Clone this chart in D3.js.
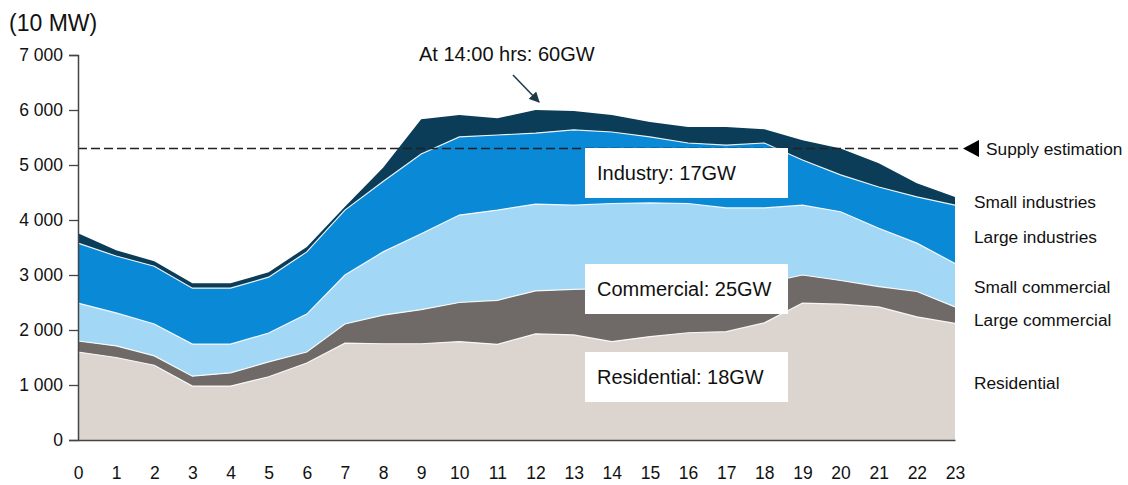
<!DOCTYPE html>
<html>
<head>
<meta charset="utf-8">
<script src="https://cdn.jsdelivr.net/npm/d3@7"></script>
<style>
  html, body { margin: 0; padding: 0; background: #fff; }
  svg { display: block; font-family: "Liberation Sans", Arial, sans-serif; }
</style>
</head>
<body>
<svg id="chart" width="1128" height="485"></svg>
<script>
// Hourly demand by sector, in units of 10 MW
const hours = d3.range(0, 24);
const residential      = [1600,1500,1360, 980, 980,1150,1400,1760,1750,1750,1790,1740,1930,1910,1790,1880,1950,1970,2130,2490,2470,2420,2240,2120];
const largeCommercial  = [ 200, 210, 170, 180, 240, 270, 200, 350, 520, 620, 710, 800, 780, 830, 960, 880, 830, 830, 720, 510, 430, 370, 460, 300];
const smallCommercial  = [ 690, 600, 580, 585, 525, 525, 690, 890,1150,1380,1590,1640,1580,1530,1550,1550,1520,1420,1370,1270,1250,1060, 880, 790];
const largeIndustries  = [1090,1035,1050,1015,1015,1015,1130,1180,1280,1450,1420,1365,1290,1370,1300,1200,1100,1140,1180, 820, 670, 750, 840,1060];
const smallIndustries  = [ 180, 105,  90,  90,  90,  90,  90,  60, 250, 630, 400, 305, 420, 340, 310, 270, 290, 330, 250, 360, 480, 430, 250, 150];
const supplyEstimation = 5300;
const yTicks = [0, 1000, 2000, 3000, 4000, 5000, 6000, 7000];

const seriesNames  = ["Residential", "Large commercial", "Small commercial", "Large industries", "Small industries"];
const seriesValues = [residential, largeCommercial, smallCommercial, largeIndustries, smallIndustries];
const seriesColors = ["#dcd4ce", "#6f6a68", "#a2d7f6", "#0a89d7", "#0b3c58"];

const svg = d3.select("#chart");
const x = d3.scaleLinear().domain([0, 23]).range([78, 955]);
const y = d3.scaleLinear().domain([0, 7000]).range([440, 55]);

// Build rows for the stack layout
const rows = hours.map((h, i) => {
  const r = { hour: h };
  seriesNames.forEach((n, k) => r[n] = seriesValues[k][i]);
  return r;
});
const stacked = d3.stack().keys(seriesNames)(rows);

const area = d3.area()
  .x(d => x(d.data.hour))
  .y0(d => y(d[0]))
  .y1(d => y(d[1]));
const topLine = d3.line()
  .x(d => x(d.data.hour))
  .y(d => y(d[1]));

svg.append("g").selectAll("path")
  .data(stacked)
  .join("path")
  .attr("d", area)
  .attr("fill", (d, i) => seriesColors[i]);

// thin white separators between layers
svg.append("g").selectAll("path")
  .data(stacked.slice(0, 4))
  .join("path")
  .attr("d", topLine)
  .attr("fill", "none")
  .attr("stroke", "#ffffff")
  .attr("stroke-width", 1.2)
  .attr("opacity", 0.9);

// Supply estimation reference line
svg.append("line")
  .attr("x1", x(0)).attr("x2", 960)
  .attr("y1", y(supplyEstimation)).attr("y2", y(supplyEstimation))
  .attr("stroke", "#222").attr("stroke-width", 1.4)
  .attr("stroke-dasharray", "9,4");

svg.append("path")
  .attr("d", d3.line()([[963, y(supplyEstimation)], [979, y(supplyEstimation) - 8.5], [979, y(supplyEstimation) + 8.5]]) + "Z")
  .attr("fill", "#000");

svg.append("text")
  .attr("x", 986).attr("y", y(supplyEstimation))
  .attr("dy", "0.35em")
  .attr("font-size", 17.3).attr("fill", "#111")
  .text("Supply estimation");

// Axes
const yAxis = svg.append("g")
  .attr("transform", `translate(${x(0)},0)`)
  .call(d3.axisLeft(y).tickValues(yTicks).tickSize(9).tickPadding(6)
    .tickFormat(d => d3.format(",")(d).replace(",", "\u2009")));
yAxis.select(".domain").attr("stroke", "#444").attr("stroke-width", 1.5);
yAxis.selectAll(".tick line").attr("stroke", "#444").attr("stroke-width", 1.3);
yAxis.selectAll(".tick text").attr("font-size", 17.5).attr("fill", "#111")
  .text(d => d === 0 ? "0" : d3.format("d")(d).replace(/(\d)(\d{3})$/, "$1 $2"));

const xAxis = svg.append("g")
  .attr("transform", `translate(0,${y(0)})`)
  .call(d3.axisBottom(x).tickValues(hours).tickSize(0).tickPadding(27).tickFormat(d3.format("d")));
xAxis.select(".domain").attr("stroke", "#444").attr("stroke-width", 1.5);
xAxis.selectAll(".tick text").attr("font-size", 17.5).attr("fill", "#111");

// Unit label
svg.append("text")
  .attr("x", 9).attr("y", 31)
  .attr("font-size", 23).attr("fill", "#111")
  .text("(10 MW)");

// Series labels on the right
const rightLabels = [
  { text: "Small industries", y: 202 },
  { text: "Large industries", y: 237 },
  { text: "Small commercial", y: 287 },
  { text: "Large commercial", y: 320 },
  { text: "Residential", y: 383 }
];
svg.append("g").selectAll("text")
  .data(rightLabels)
  .join("text")
  .attr("x", 974).attr("y", d => d.y)
  .attr("dy", "0.35em")
  .attr("font-size", 17.3).attr("fill", "#111")
  .text(d => d.text);

// Boxed sector totals
const boxes = [
  { text: "Industry: 17GW", y0: 148, y1: 198 },
  { text: "Commercial: 25GW", y0: 264, y1: 314 },
  { text: "Residential: 18GW", y0: 352, y1: 402 }
];
const bg = svg.append("g").selectAll("g")
  .data(boxes)
  .join("g");
bg.append("rect")
  .attr("x", 585).attr("width", 203)
  .attr("y", d => d.y0).attr("height", d => d.y1 - d.y0)
  .attr("fill", "#fff");
bg.append("text")
  .attr("x", 597).attr("y", d => (d.y0 + d.y1) / 2)
  .attr("dy", "0.36em")
  .attr("font-size", 20).attr("fill", "#111")
  .text(d => d.text);

// Peak annotation with arrow
const defs = svg.append("defs");
defs.append("marker")
  .attr("id", "arrowHead")
  .attr("viewBox", "0 0 10 10")
  .attr("refX", 9).attr("refY", 5)
  .attr("markerWidth", 7).attr("markerHeight", 7)
  .attr("orient", "auto")
  .append("path")
  .attr("d", "M0,0L10,5L0,10Z")
  .attr("fill", "#1d3a48");

svg.append("text")
  .attr("x", 419).attr("y", 54)
  .attr("dy", "0.35em")
  .attr("font-size", 20).attr("fill", "#111")
  .text("At 14:00 hrs: 60GW");

svg.append("line")
  .attr("x1", 513).attr("y1", 75)
  .attr("x2", 539).attr("y2", 102)
  .attr("stroke", "#1d3a48").attr("stroke-width", 1.5)
  .attr("marker-end", "url(#arrowHead)");
</script>
</body>
</html>
